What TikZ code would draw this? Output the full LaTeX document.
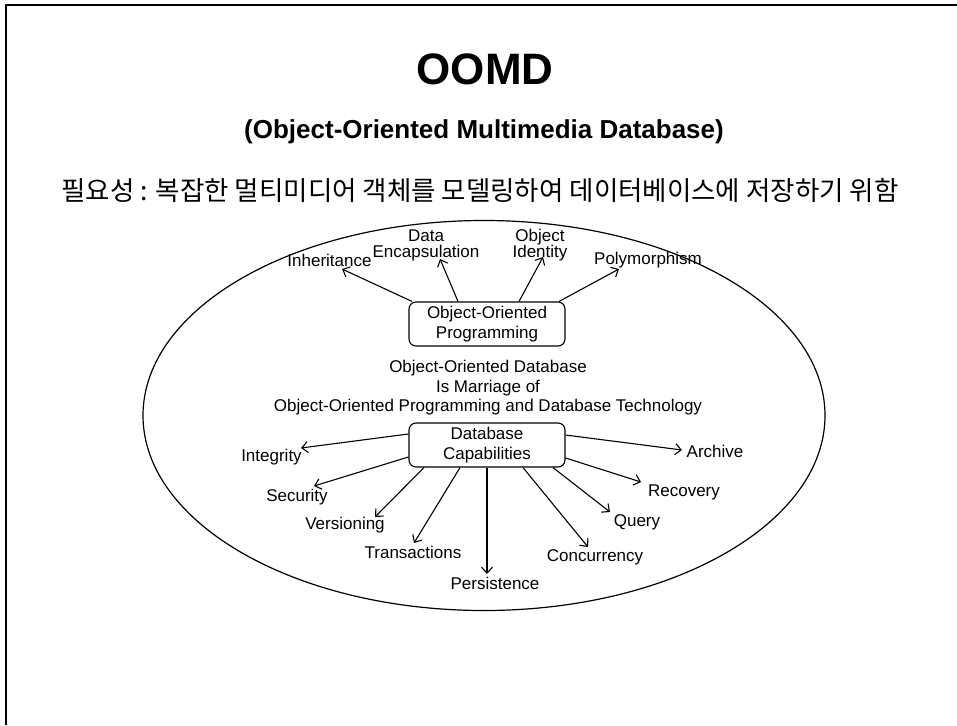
\documentclass[tikz,border=0pt]{standalone}
\usepackage{fontspec}
\setmainfont{Liberation Sans}
\newfontfamily\krfont{Noto Sans CJK KR}
\usetikzlibrary{arrows.meta,calc}
\begin{document}
\begin{tikzpicture}[x=1pt,y=-1pt,
  lbl/.style={inner sep=0pt, font=\fontsize{17}{19.5}\selectfont, align=center},
  tightlbl/.style={lbl, font=\fontsize{17}{16}\selectfont},
  boxnode/.style={draw, rounded corners=7pt, minimum width=156pt, minimum height=44pt, inner sep=0pt, align=center, font=\fontsize{17}{19.5}\selectfont, line width=1.1pt},
  arr/.style={line width=1.1pt, -{Straight Barb[length=6pt,width=11pt]}},
]
\useasboundingbox (0,0) rectangle (957,725);
\draw[line width=2pt] (6,725) -- (6,5) -- (957,5);

\node[inner sep=0pt, font=\fontsize{44}{48}\selectfont\bfseries] (title) at (485,69) {OOMD};
\node[inner sep=0pt, font=\fontsize{26}{30}\selectfont\bfseries] (subtitle) at (484,132) {(Object-Oriented Multimedia Database)};
\node[inner sep=0pt, font=\krfont\fontsize{26.5}{30}\selectfont] (need) at (480,190) {필요성 : 복잡한 멀티미디어 객체를 모델링하여 데이터베이스에 저장하기 위함};

\draw[line width=1.2pt] (484,415.5) ellipse [x radius=341, y radius=195];

\node[boxnode] (oop) at (487,324) {Object-Oriented\\Programming};
\node[boxnode] (db) at (487,445) {Database\\Capabilities};

\node[lbl] (marriage) at (488,388) {Object-Oriented Database\\Is Marriage of\\Object-Oriented Programming and Database Technology};

% OOP features
\node[lbl] (inh) at (329.5,260) {Inheritance};
\node[tightlbl] (enc) at (426,245) {Data\\Encapsulation};
\node[tightlbl] (oid) at (540,245) {Object\\Identity};
\node[lbl] (poly) at (648,260) {Polymorphism};

\draw[arr] ($(oop.north)+(-75,0)$) -- ($(inh.center)+(12.5,9)$);
\draw[arr] ($(oop.north)+(-29,0)$) -- ($(enc.center)+(14,14)$);
\draw[arr] ($(oop.north)+(32,0)$) -- ($(oid.center)+(3,12)$);
\draw[arr] ($(oop.north)+(72,0)$) -- ($(poly.center)+(-29,9)$);

% DB capabilities
\node[lbl] (integ) at (271.5,457) {Integrity};
\node[lbl] (arch) at (715,451) {Archive};
\node[lbl] (sec) at (297,497) {Security};
\node[lbl] (rec) at (684,492) {Recovery};
\node[lbl] (ver) at (345,525) {Versioning};
\node[lbl] (trans) at (413,552) {Transactions};
\node[lbl] (pers) at (495,583) {Persistence};
\node[lbl] (conc) at (595,557) {Concurrency};
\node[lbl] (query) at (637,522) {Query};

\draw[arr] ($(db.west)+(0,-11)$) -- ($(integ.center)+(29.5,-9)$);
\draw[arr] ($(db.east)+(0,-10)$) -- ($(arch.center)+(-33,-1)$);
\draw[arr] ($(db.west)+(0,12)$) -- ($(sec.center)+(17,-11)$);
\draw[arr] ($(db.east)+(0,13)$) -- ($(rec.center)+(-43,-10)$);
\draw[arr] ($(db.south)+(-63,0)$) -- ($(ver.center)+(30,-8)$);
\draw[arr] ($(db.south)+(-27,0)$) -- ($(trans.center)+(1,-9)$);
\draw[arr] (db.south) -- ($(pers.center)+(-8,-9)$);
\draw[arr] ($(db.south)+(36,0)$) -- ($(conc.center)+(-7,-10)$);
\draw[arr] ($(db.south)+(66,0)$) -- ($(query.center)+(-27,-10)$);
\end{tikzpicture}
\end{document}
